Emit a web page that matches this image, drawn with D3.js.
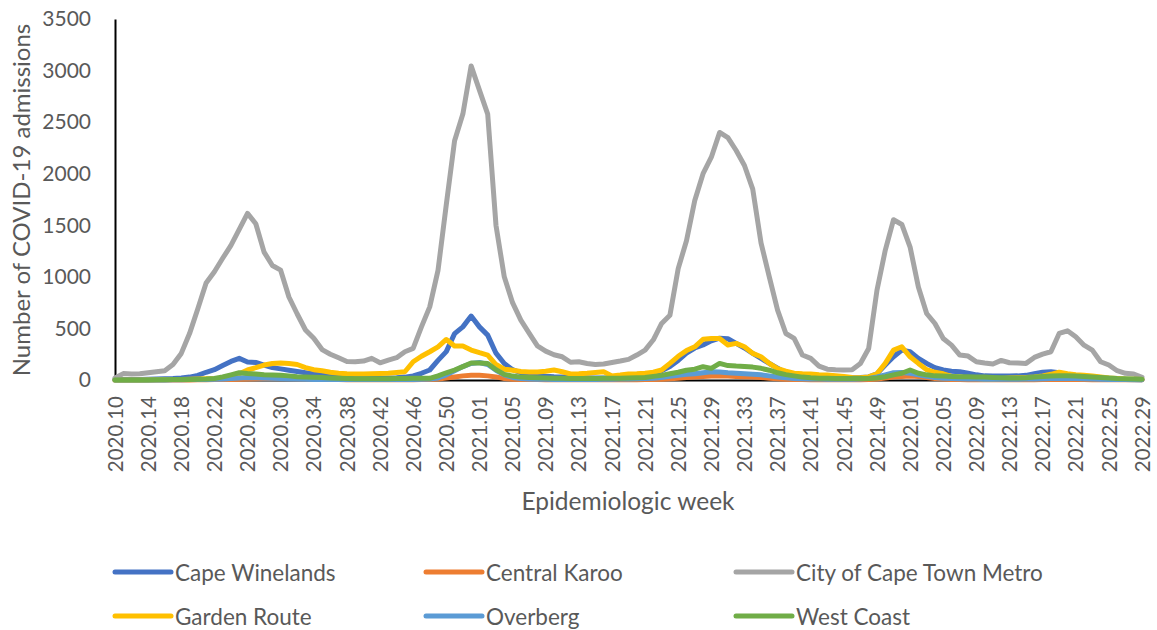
<!DOCTYPE html>
<html>
<head>
<meta charset="utf-8">
<script src="https://cdn.jsdelivr.net/npm/d3@7"></script>
<style>
  html, body { margin: 0; padding: 0; background: #fff; }
  svg { display: block; font-family: Lato, "Open Sans", sans-serif; }
</style>
</head>
<body>
<svg id="chart" width="1157" height="630"></svg>
<script>
// Epidemiologic weeks: [year, first week, last week]
const weekRanges = [[2020, 10, 53], [2021, 1, 52], [2022, 1, 29]];
const weeks = weekRanges.flatMap(([yr, a, b]) =>
  d3.range(a, b + 1).map(w => `${yr}.${String(w).padStart(2, "0")}`));

const yTicks = [0, 500, 1000, 1500, 2000, 2500, 3000, 3500];

const seriesNames = ["Cape Winelands", "Central Karoo", "City of Cape Town Metro",
                     "Garden Route", "Overberg", "West Coast"];
const seriesColors = ["#4472C4", "#ED7D31", "#A5A5A5", "#FFC000", "#5B9BD5", "#70AD47"];

const capeWinelands = [
  5, 5, 5, 6, 8, 10, 12, 15, 20, 28,
  45, 75, 100, 140, 180, 210, 175, 170, 145, 120,
  108, 95, 82, 70, 58, 48, 38, 32, 26, 22,
  20, 20, 18, 20, 22, 28, 40, 65, 97, 190,
  275, 450, 515, 620, 515, 435, 260, 160, 100, 70,
  50, 42, 36, 32, 30, 28, 25, 22, 20, 20,
  20, 22, 24, 28, 35, 55, 90, 130, 190, 260,
  310, 340, 380, 405, 400, 355, 310, 258, 210, 160,
  115, 70, 50, 42, 35, 30, 28, 25, 22, 22,
  25, 30, 60, 145, 225, 290, 274, 210, 160, 120,
  97, 85, 80, 65, 50, 40, 38, 38, 38, 40,
  45, 60, 75, 80, 70, 50, 35, 25, 20, 15,
  10, 8, 6, 5, 3];

const centralKaroo = [
  0, 0, 0, 0, 0, 0, 0, 0, 0, 0,
  2, 3, 4, 5, 6, 8, 10, 12, 14, 15,
  15, 14, 12, 10, 8, 6, 5, 4, 3, 3,
  3, 3, 3, 3, 3, 3, 3, 4, 5, 10,
  20, 30, 40, 45, 45, 40, 30, 15, 8, 5,
  4, 4, 3, 3, 3, 3, 3, 3, 3, 3,
  3, 3, 3, 3, 4, 5, 8, 12, 18, 25,
  30, 35, 38, 40, 38, 35, 32, 30, 25, 18,
  12, 8, 5, 4, 3, 3, 3, 3, 3, 3,
  3, 5, 10, 20, 30, 35, 38, 35, 25, 15,
  10, 6, 4, 3, 3, 3, 3, 3, 3, 3,
  3, 3, 4, 5, 6, 6, 5, 4, 3, 3,
  3, 2, 2, 2, 2];

const capeTownMetro = [
  20, 62, 58, 60, 70, 80, 90, 150, 258, 450,
  690, 940, 1050, 1180, 1305, 1460, 1615, 1515, 1240, 1110,
  1065, 805, 640, 485, 405, 295, 250, 215, 180, 178,
  184, 210, 167, 193, 216, 274, 306, 515, 709, 1063,
  1700, 2320, 2578, 3045, 2810, 2578, 1500, 1000, 750, 580,
  455, 330, 280, 245, 225, 172, 177, 160, 150, 155,
  170, 184, 200, 242, 290, 390, 548, 628, 1080, 1350,
  1740, 2000, 2160, 2400, 2350, 2225, 2080, 1850, 1330, 1000,
  677, 451, 403, 242, 210, 135, 105, 100, 98, 100,
  160, 306, 870, 1257, 1554, 1508, 1289, 902, 645, 548,
  403, 338, 242, 232, 177, 165, 155, 190, 167, 165,
  161, 219, 251, 274, 451, 477, 419, 338, 290, 177,
  145, 90, 65, 58, 26];

const gardenRoute = [
  0, 0, 0, 0, 2, 3, 4, 5, 6, 8,
  10, 12, 14, 18, 30, 60, 97, 120, 145, 160,
  165, 160, 150, 120, 100, 90, 75, 65, 60, 58,
  58, 60, 62, 65, 72, 80, 177, 230, 274, 322,
  393, 329, 329, 290, 265, 242, 150, 105, 95, 82,
  78, 78, 85, 97, 80, 58, 60, 65, 72, 80,
  40, 48, 58, 60, 65, 75, 97, 161, 230, 285,
  322, 395, 403, 403, 340, 355, 322, 258, 225, 161,
  110, 85, 65, 60, 58, 52, 48, 42, 35, 25,
  22, 30, 60, 161, 290, 322, 225, 161, 100, 75,
  60, 35, 28, 20, 15, 10, 10, 15, 20, 22,
  25, 30, 40, 55, 75, 60, 50, 45, 40, 30,
  20, 15, 10, 8, 5];

const overberg = [
  0, 0, 0, 0, 0, 0, 0, 2, 3, 4,
  5, 6, 8, 10, 15, 20, 25, 22, 20, 18,
  15, 12, 10, 8, 6, 5, 5, 4, 4, 4,
  4, 4, 4, 4, 4, 5, 6, 8, 10, 20,
  50, 90, 130, 160, 170, 150, 95, 50, 25, 15,
  10, 8, 7, 6, 6, 6, 6, 6, 6, 7,
  8, 9, 10, 12, 14, 18, 25, 35, 45, 55,
  60, 70, 80, 78, 70, 65, 60, 55, 50, 40,
  30, 22, 15, 12, 10, 9, 8, 8, 8, 8,
  10, 15, 30, 50, 70, 72, 65, 50, 35, 25,
  18, 14, 12, 10, 9, 8, 8, 8, 8, 8,
  9, 10, 12, 14, 15, 15, 14, 12, 10, 8,
  6, 5, 4, 3, 2];

const westCoast = [
  0, 0, 0, 0, 0, 2, 3, 4, 5, 6,
  8, 10, 15, 30, 50, 70, 62, 58, 52, 48,
  45, 40, 32, 30, 27, 24, 20, 17, 14, 12,
  12, 12, 12, 13, 14, 15, 16, 16, 16, 40,
  70, 97, 130, 165, 165, 160, 100, 55, 38, 28,
  25, 22, 20, 18, 16, 15, 15, 15, 15, 16,
  16, 18, 20, 22, 25, 35, 45, 60, 75, 95,
  105, 129, 113, 161, 140, 135, 132, 125, 113, 95,
  70, 52, 40, 28, 22, 18, 16, 15, 14, 14,
  14, 15, 20, 32, 50, 65, 97, 65, 50, 40,
  38, 35, 32, 32, 30, 28, 25, 22, 20, 20,
  22, 28, 35, 38, 40, 40, 38, 35, 30, 25,
  20, 15, 12, 10, 8];

const seriesValues = [capeWinelands, centralKaroo, capeTownMetro, gardenRoute, overberg, westCoast];

const svg = d3.select("#chart");
const textColor = "#595959";

const x = d3.scalePoint().domain(weeks).range([115, 1142]);
const y = d3.scaleLinear().domain([0, 3500]).range([380, 19]);

// Y axis
const yAxis = svg.append("g")
  .attr("transform", `translate(${x.range()[0]},0)`)
  .call(d3.axisLeft(y).tickValues(yTicks).tickSize(0).tickPadding(24).tickFormat(d3.format("d")));
yAxis.select(".domain").attr("stroke", "#000").attr("stroke-width", 2);
yAxis.selectAll("text").attr("fill", textColor).style("font-size", "21px")
  .style("font-family", "Lato, 'Open Sans', sans-serif");

// X axis with vertical week labels every fourth week
const xAxis = svg.append("g")
  .attr("transform", `translate(0,${y(0)})`)
  .call(d3.axisBottom(x).tickValues(weeks.filter((d, i) => i % 4 === 0)).tickSize(0));
xAxis.select(".domain").attr("stroke", "#000").attr("stroke-width", 2);
xAxis.selectAll("text")
  .attr("fill", textColor)
  .style("font-size", "20.5px")
  .style("font-family", "Lato, 'Open Sans', sans-serif")
  .attr("text-anchor", "end")
  .attr("transform", "rotate(-90)")
  .attr("x", -16)
  .attr("y", 0)
  .attr("dy", "0.35em");

// Axis titles
svg.append("text")
  .attr("transform", "translate(20,200) rotate(-90)")
  .attr("text-anchor", "middle")
  .attr("dominant-baseline", "central")
  .attr("fill", textColor)
  .style("font-size", "24px")
  .text("Number of COVID-19 admissions");

svg.append("text")
  .attr("x", 628).attr("y", 500)
  .attr("text-anchor", "middle")
  .attr("dominant-baseline", "central")
  .attr("fill", textColor)
  .style("font-size", "24.5px")
  .text("Epidemiologic week");

// Series lines
const line = d3.line()
  .x((d, i) => x(weeks[i]))
  .y(d => y(d));

svg.append("g").selectAll("path")
  .data(seriesValues)
  .join("path")
  .attr("d", d => line(d))
  .attr("fill", "none")
  .attr("stroke", (d, i) => seriesColors[i])
  .attr("stroke-width", 5)
  .attr("stroke-linejoin", "round")
  .attr("stroke-linecap", "round");

// Legend: three columns, two rows
const legendCols = [115, 426, 736];
const legendRows = [572, 616];
const legend = svg.append("g").selectAll("g")
  .data(seriesNames)
  .join("g")
  .attr("transform", (d, i) => `translate(${legendCols[i % 3]},${legendRows[Math.floor(i / 3)]})`);
legend.append("line")
  .attr("x1", 0).attr("x2", 56)
  .attr("stroke", (d, i) => seriesColors[i])
  .attr("stroke-width", 5)
  .attr("stroke-linecap", "round");
legend.append("text")
  .attr("x", 60)
  .attr("dominant-baseline", "central")
  .attr("fill", textColor)
  .style("font-size", "22.5px")
  .text(d => d);
</script>
</body>
</html>
